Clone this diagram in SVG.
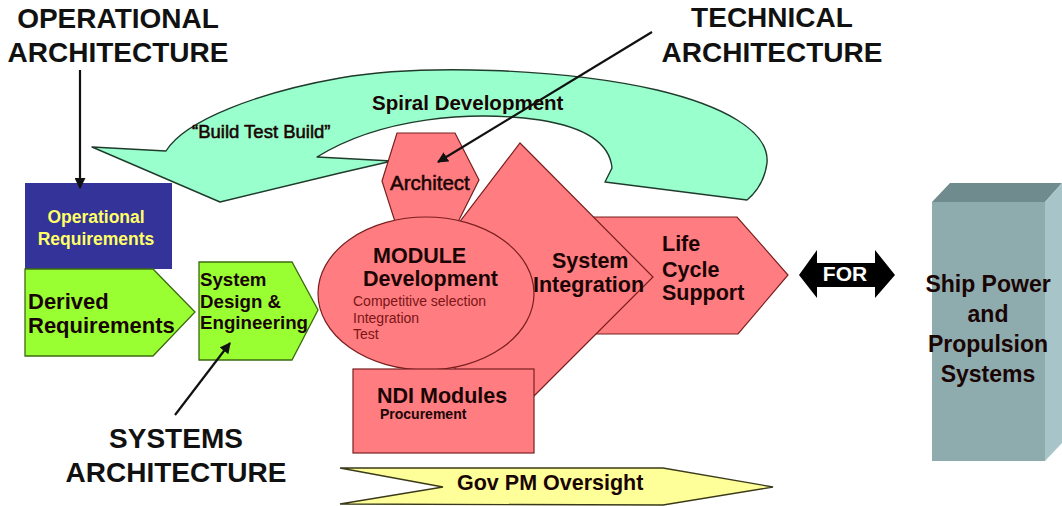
<svg xmlns="http://www.w3.org/2000/svg" width="1062" height="506" viewBox="0 0 1062 506">
<style>
text{font-family:"Liberation Sans",Arial,sans-serif}
.big{font-size:28px;font-weight:bold;fill:#111;text-anchor:middle}
.b{font-weight:bold}
.red{fill:#FF7C80;stroke:#7a1f1f;stroke-width:1.2}
.lime{fill:#99FF33;stroke:#3d6b10;stroke-width:1.3}
.dk{fill:#1a0505}
.semi{stroke:#1a0505;stroke-width:0.55}
.sub{font-size:14px;fill:#7a1515}
.conn{stroke:#111;stroke-width:2.2;fill:none}
</style>
<defs>
<marker id="ah" viewBox="0 0 10 10" refX="9" refY="5" markerWidth="5" markerHeight="5" orient="auto">
<path d="M0,0 L10,5 L0,10 z" fill="#111"/>
</marker>
</defs>
<rect width="1062" height="506" fill="#fff"/>

<g id="label-operational">
<text class="big" x="118" y="28">OPERATIONAL</text>
<text class="big" x="118" y="62">ARCHITECTURE</text>
</g>
<g id="label-technical">
<text class="big" x="772" y="27">TECHNICAL</text>
<text class="big" x="772" y="62">ARCHITECTURE</text>
</g>
<g id="label-systems">
<text class="big" x="176" y="448">SYSTEMS</text>
<text class="big" x="176" y="482">ARCHITECTURE</text>
</g>

<g id="spiral">
<path d="M92,147 L166,151 C185,120 260,92 340,78 C420,64 560,68 657,90 C720,105 770,130 767,163 Q764,186 747,200 L605,182 L612,168 C610,145 590,128 540,120 C470,110 380,118 317,157 L392,161 L340,173 L220,202 Z" fill="#99FFCC" stroke="#1f3b2c" stroke-width="1.4" stroke-linejoin="round"/>
<text x="372" y="110" font-size="20.5" class="b dk">Spiral Development</text>
<text x="192" y="138" font-size="18.5" class="dk semi">“Build Test Build”</text>
</g>

<g id="gov-oversight">
<polygon points="340,468 663,468 773,487 663,505 340,504 443,487" fill="#FFFF99" stroke="#3a3a1a" stroke-width="1.3"/>
<text x="457" y="490" font-size="21.5" class="b dk">Gov PM Oversight</text>
</g>

<g id="operational-requirements">
<rect x="25" y="183" width="147" height="86" fill="#333399"/>
<text x="96" y="223" font-size="17.5" class="b" fill="#FFFF66" text-anchor="middle">Operational</text>
<text x="96" y="245" font-size="17.5" class="b" fill="#FFFF66" text-anchor="middle">Requirements</text>
</g>

<g id="derived-requirements">
<polygon class="lime" points="25,269 153,269 195,312 153,356 25,356"/>
<text x="28" y="309" font-size="22" class="b dk">Derived</text>
<text x="28" y="333" font-size="22" class="b dk">Requirements</text>
</g>

<g id="system-design">
<polygon class="lime" points="199,262 292,262 318,310 292,360 199,360"/>
<text x="200" y="286" font-size="18.7" class="b dk">System</text>
<text x="200" y="307.5" font-size="18.7" class="b dk">Design &amp;</text>
<text x="200" y="329" font-size="18.7" class="b dk">Engineering</text>
</g>

<g id="life-cycle-support">
<polygon class="red" points="560,217 737,217 788,275 738,334 560,334"/>
<text x="662" y="251" font-size="21.5" class="b dk">Life</text>
<text x="662" y="277" font-size="21.5" class="b dk">Cycle</text>
<text x="662" y="300" font-size="21.5" class="b dk">Support</text>
</g>

<g id="architect">
<polygon class="red" points="397,133 455,133 479,180 455,228 397,228 382,181"/>
<text x="390" y="190" font-size="20.5" class="dk semi">Architect</text>
</g>

<g id="system-integration">
<polygon class="red" points="520,143 653,277 520,410 480,400 400,300"/>
<text x="552" y="268" font-size="21.5" class="b dk">System</text>
<text x="533" y="292" font-size="21.5" class="b dk">Integration</text>
</g>

<g id="module-development">
<ellipse class="red" cx="426" cy="293.5" rx="108" ry="76.5"/>
<text x="373" y="263" font-size="21.5" class="b dk">MODULE</text>
<text x="363" y="286" font-size="21.5" class="b dk">Development</text>
<text x="353" y="306" class="sub">Competitive selection</text>
<text x="353" y="323" class="sub">Integration</text>
<text x="353" y="339" class="sub">Test</text>
</g>

<g id="ndi-modules">
<rect class="red" x="353" y="369" width="181" height="84"/>
<text x="377" y="403" font-size="21.5" class="b dk">NDI Modules</text>
<text x="380" y="419" font-size="14" class="b dk">Procurement</text>
</g>

<g id="for-arrow">
<polygon points="799,275 817,250 817,263 875,263 875,250 895,275 875,298 875,287 817,287 817,298" fill="#000"/>
<text x="845" y="281" font-size="21" class="b" fill="#fff" text-anchor="middle">FOR</text>
</g>

<g id="ship-power">
<polygon points="932,202 950,183 1062,183 1045,202" fill="#6F8B8D"/>
<polygon points="1045,202 1062,183 1062,443 1045,461" fill="#A7C5C9"/>
<rect x="932" y="202" width="113" height="259" fill="#8EABAE"/>
<text x="988" y="292" font-size="23" class="b dk" text-anchor="middle">Ship Power</text>
<text x="988" y="322" font-size="23" class="b dk" text-anchor="middle">and</text>
<text x="988" y="352" font-size="23" class="b dk" text-anchor="middle">Propulsion</text>
<text x="988" y="382" font-size="23" class="b dk" text-anchor="middle">Systems</text>
</g>

<g id="connectors">
<line class="conn" x1="80" y1="70" x2="80" y2="188" marker-end="url(#ah)"/>
<line class="conn" x1="652" y1="32" x2="438" y2="162" marker-end="url(#ah)"/>
<line class="conn" x1="175" y1="415" x2="230" y2="343" marker-end="url(#ah)"/>
</g>
</svg>
